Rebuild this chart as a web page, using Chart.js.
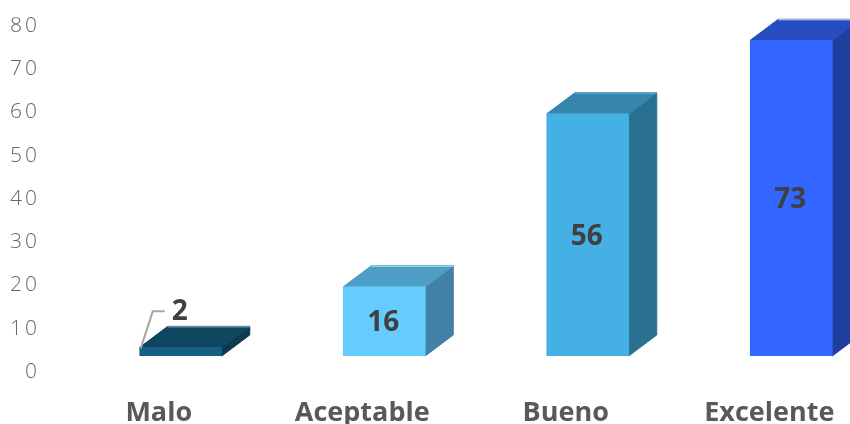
<!DOCTYPE html>
<html>
<head>
<meta charset="utf-8">
<style>
html, body { margin: 0; padding: 0; background: #fff; overflow: hidden; }
#wrap { width: 850px; height: 424px; overflow: hidden; }
canvas { display: block; }
</style>
<script src="https://cdn.jsdelivr.net/npm/chart.js@4/dist/chart.umd.min.js"></script>
</head>
<body>
<div id="wrap"><canvas id="chart" width="900" height="424"></canvas></div>
<script>
var categories = ['Malo', 'Aceptable', 'Bueno', 'Excelente'];
var values = [2, 16, 56, 73];
var frontColors = ['#156082', '#66ccff', '#45b0e3', '#3366ff'];
var topColors = ['#0f4761', '#4d9dc4', '#3585ac', '#264dbf'];
var sideColors = ['#0c3a50', '#4280a8', '#2a7191', '#1f3f9e'];
var edgeColors = ['#8fb4c6', '#9fdcfa', '#4ab3e6', '#d5ddf5'];

var depthX = 28;
var depthY = 21;

function face(ctx, pts, fill, edge) {
    ctx.beginPath();
    ctx.moveTo(pts[0][0], pts[0][1]);
    for (var i = 1; i < pts.length; i++) ctx.lineTo(pts[i][0], pts[i][1]);
    ctx.closePath();
    ctx.fillStyle = fill;
    ctx.fill();
    ctx.strokeStyle = edge;
    ctx.lineWidth = 1;
    ctx.stroke();
}

// the top and side faces and the value labels hang off the real bars
var bars3d = {
    id: 'bars3d',
    beforeDatasetsDraw: function(chart) {
        var ctx = chart.ctx;
        chart.getDatasetMeta(0).data.forEach(function(bar, i) {
            var l = bar.x - bar.width / 2, r = bar.x + bar.width / 2;
            var t = bar.y, b = bar.base;
            ctx.save();
            face(ctx, [[r, t], [r + depthX, t - depthY], [r + depthX, b - depthY], [r, b]], sideColors[i], sideColors[i]);
            face(ctx, [[l, t], [l + depthX, t - depthY], [r + depthX, t - depthY], [r, t]], topColors[i], topColors[i]);
            // light outer edge
            ctx.strokeStyle = edgeColors[i];
            ctx.beginPath();
            ctx.moveTo(l + depthX, t - depthY + 0.5);
            ctx.lineTo(r + depthX, t - depthY + 0.5);
            ctx.stroke();
            ctx.restore();
        });
    },
    afterDatasetsDraw: function(chart) {
        var ctx = chart.ctx;
        chart.getDatasetMeta(0).data.forEach(function(bar, i) {
            var l = bar.x - bar.width / 2;
            var labelY = (bar.y + bar.base) / 2 + 2;
            ctx.save();
            if (bar.base - bar.y < 30) {
                // too thin for the label, so it sits above with a leader line
                labelY = bar.y - 36;
                ctx.strokeStyle = '#a6a6a6';
                ctx.lineWidth = 2;
                ctx.beginPath();
                ctx.moveTo(l + 1, bar.y + 1);
                ctx.lineTo(l + 13, labelY);
                ctx.lineTo(l + 25, labelY);
                ctx.stroke();
                labelY += 1;
            }
            ctx.fillStyle = '#404040';
            ctx.font = 'bold 28px "Open Sans"';
            ctx.textAlign = 'center';
            ctx.textBaseline = 'middle';
            ctx.fillText(String(values[i]), bar.x - 1, labelY);
            ctx.restore();
        });
    }
};

// only the y tick labels are letter spaced
var tickSpacing = {
    id: 'tickSpacing',
    beforeDraw: function(chart) {
        var y = chart.scales.y;
        if (y.spaced) return;
        var drawLabels = y.drawLabels;
        y.drawLabels = function(area) {
            chart.ctx.letterSpacing = '3px';
            drawLabels.call(this, area);
            chart.ctx.letterSpacing = '0px';
        };
        y.spaced = true;
    }
};

var ctx = document.getElementById('chart').getContext('2d');

new Chart(ctx, {
    type: 'bar',
    data: {
        labels: categories,
        datasets: [{
            data: values,
            backgroundColor: frontColors,
            borderWidth: 0,
            barThickness: 82
        }]
    },
    plugins: [tickSpacing, bars3d],
    options: {
        responsive: false,
        animation: false,
        layout: { padding: { top: 10, right: 7, left: 0, bottom: 0 } },
        plugins: {
            legend: { display: false },
            title: { display: false },
            tooltip: { enabled: false }
        },
        scales: {
            x: {
                grid: { display: false, drawTicks: false },
                border: { display: false },
                afterFit: function(scale) {
                    scale.height = 68;
                    scale.paddingLeft = 0;
                    scale.paddingRight = 0;
                },
                ticks: {
                    labelOffset: -22,
                    padding: 41,
                    maxRotation: 0,
                    color: '#595959',
                    font: { family: 'Open Sans', size: 27, weight: 'bold' }
                }
            },
            y: {
                min: 0,
                max: 80,
                grid: { display: false, drawTicks: false },
                border: { display: false },
                afterFit: function(scale) {
                    scale.width = 79;
                    scale.paddingTop = 0;
                    scale.paddingBottom = 0;
                },
                ticks: {
                    stepSize: 10,
                    labelOffset: 16,
                    padding: 39,
                    color: '#666666',
                    font: { family: 'Open Sans', size: 21, weight: '300' }
                }
            }
        }
    }
});
</script>
</body>
</html>
